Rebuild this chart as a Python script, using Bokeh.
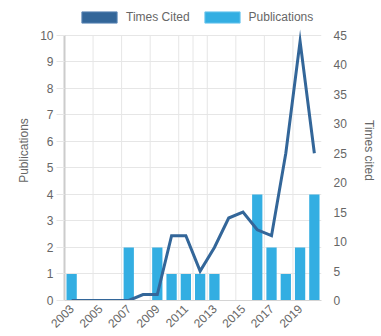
from bokeh.plotting import figure
from bokeh.models import (Range1d, LinearAxis, FixedTicker, SingleIntervalTicker,
                          ColumnDataSource, Legend, LegendItem)
from bokeh.embed import file_html
from bokeh.resources import INLINE
import math

years = [2003, 2004, 2005, 2006, 2007, 2008, 2009, 2010, 2011, 2012,
         2013, 2014, 2015, 2016, 2017, 2018, 2019, 2020]
publications = [1, 0, 0, 0, 2, 0, 2, 1, 1, 1, 1, 0, 0, 4, 2, 1, 2, 4]
times_cited = [0, 0, 0, 0, 0, 1, 1, 11, 11, 5, 9, 14, 15, 12, 11, 25, 44, 25]
label_years = years[0:17:2]
pub_max, cited_max = 10, 45

FONT = "Liberation Sans"
TXT = "#666666"
LINE_C = "#336699"
BAR_C = "#33aee2"
GRID_C = "#e6e6e6"

# layout (px): chart area 269 x 266, legend strip of 35 px above it inside the frame
AREA_H, STRIP_H = 266, 35
scale_top = (AREA_H + STRIP_H) / AREA_H

src = ColumnDataSource(dict(year=years, pubs=publications, cited=times_cited))

p = figure(width=378, height=334, output_backend="svg", toolbar_location=None,
           x_range=Range1d(years[0] - 0.5, years[-1] + 0.5),
           y_range=Range1d(0, pub_max * scale_top),
           min_border_left=64, min_border_right=45, min_border_top=0, min_border_bottom=33,
           outline_line_color=None)
p.extra_y_ranges = {"cited": Range1d(0, cited_max * scale_top)}

# vertical grid lines restricted to the chart area
grid_x = [2004.5, 2006.5, 2008.5, 2010.5, 2011.5, 2012.5, 2014.5, 2016.5, 2018.5]
p.segment(x0=grid_x, x1=grid_x, y0=[0] * len(grid_x), y1=[pub_max] * len(grid_x),
          line_color=GRID_C, line_width=1)

bars = p.vbar(x="year", top="pubs", width=0.72, source=src, fill_color=BAR_C, line_color=None)
line = p.line(x="year", y="cited", source=src, y_range_name="cited", line_color=LINE_C,
              line_width=3, line_join="miter")
nan = float("nan")
dummy = p.vbar(x=[nan], top=[nan], width=0.72, fill_color=LINE_C, line_color="#5b86b5", line_width=1)
bars_leg = p.vbar(x=[nan], top=[nan], width=0.72, fill_color=BAR_C, line_color="#6cc6ee", line_width=1)

# axes
xa = p.xaxis[0]
xa.ticker = FixedTicker(ticks=label_years)
xa.major_label_orientation = math.pi / 4
xa.major_tick_line_color = None
xa.major_tick_out = 0
xa.major_label_standoff = 6
xa.axis_line_color = "#d4d4d4"
xa.minor_tick_line_color = None

ya = p.yaxis[0]
ya.ticker = SingleIntervalTicker(interval=1)
ya.bounds = (0, pub_max)
ya.axis_label = "Publications"
ya.axis_line_color = "#cccccc"
ya.axis_line_width = 2
ya.major_tick_line_color = GRID_C
ya.major_tick_out = 8
ya.major_tick_in = 0
ya.major_label_standoff = 3
ya.minor_tick_line_color = None
ya.axis_label_standoff = 6

ra = LinearAxis(y_range_name="cited", ticker=SingleIntervalTicker(interval=5),
                axis_label="Times cited", bounds=(0, cited_max))
ra.axis_line_color = None
ra.major_tick_line_color = None
ra.major_tick_out = 0
ra.major_tick_in = 0
ra.minor_tick_line_color = None
ra.major_label_standoff = 8
ra.axis_label_standoff = 12
p.add_layout(ra, "right")

for ax in (xa, ya, ra):
    ax.major_label_text_font = FONT
    ax.major_label_text_font_size = "12px"
    ax.major_label_text_color = TXT
    ax.axis_label_text_font = FONT
    ax.axis_label_text_font_size = "12px"
    ax.axis_label_text_color = TXT
    ax.axis_label_text_font_style = "normal"

p.xgrid.grid_line_color = None
p.ygrid.grid_line_color = GRID_C
p.ygrid.bounds = (0, pub_max)

legend = Legend(items=[LegendItem(label="Times Cited", renderers=[dummy]),
                       LegendItem(label="Publications", renderers=[bars_leg])],
                location=(13, 276), orientation="horizontal",
                glyph_width=44, glyph_height=14, label_standoff=5, spacing=10,
                padding=0, margin=0, border_line_color=None, background_fill_alpha=0,
                label_text_font=FONT, label_text_font_size="12px", label_text_color=TXT)
p.add_layout(legend, "center")

open("out.html", "w").write(file_html(p, INLINE))
